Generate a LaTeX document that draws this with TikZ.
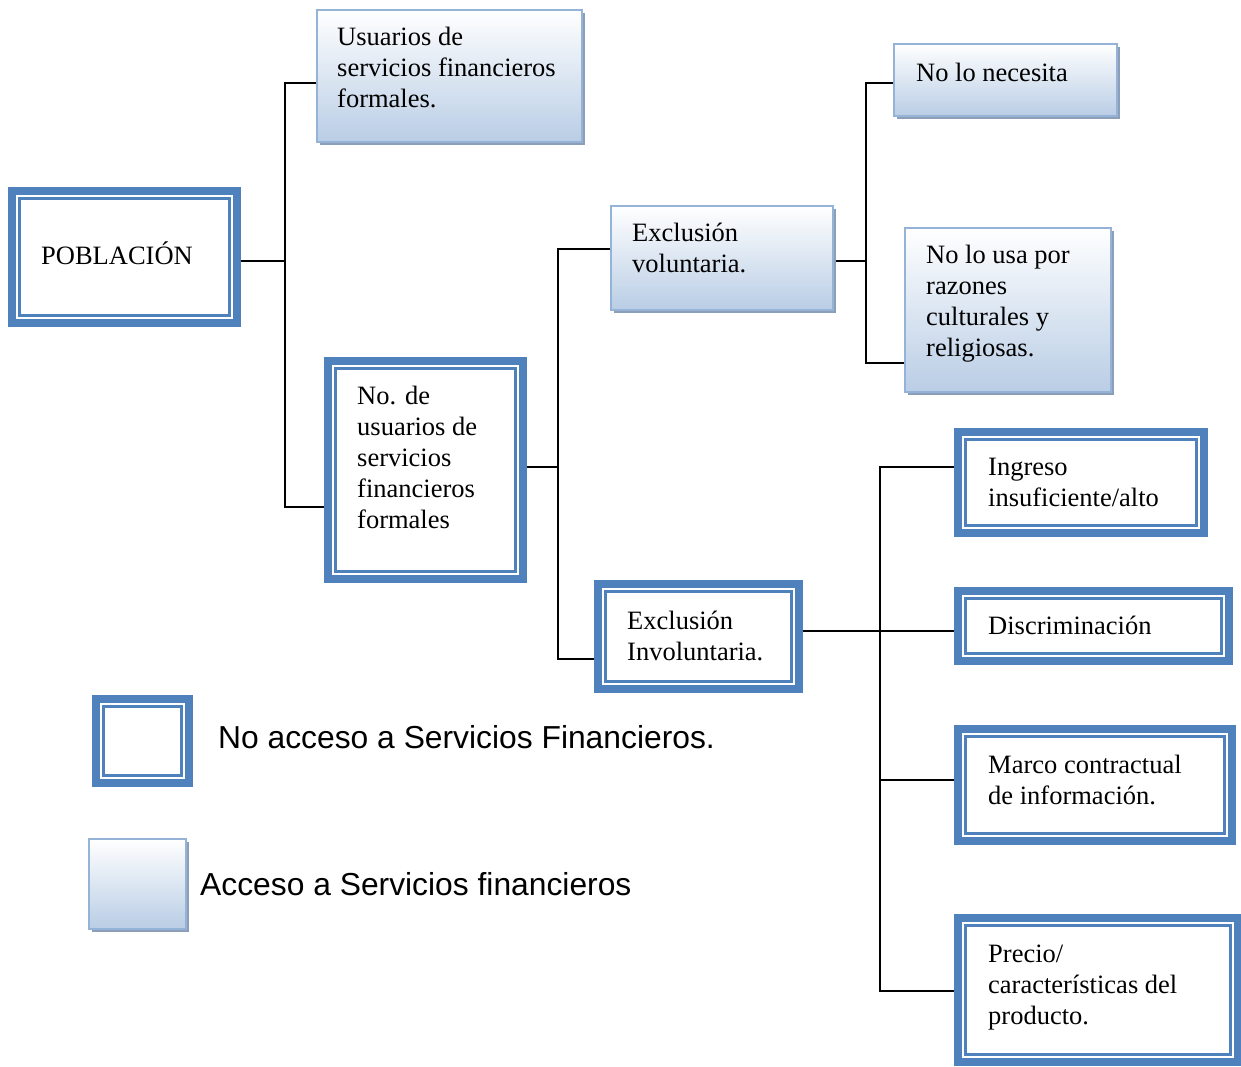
\documentclass[tikz,border=0pt]{standalone}
\usepackage{fontspec}
\setmainfont{Liberation Serif}
\newfontfamily\legfont{Liberation Sans}
\usetikzlibrary{shadows,backgrounds}
\definecolor{bluethick}{RGB}{79,129,189}
\definecolor{gborder}{RGB}{149,179,215}
\definecolor{gbottom}{RGB}{185,205,229}
\definecolor{gshadow}{RGB}{140,158,184}
\tikzset{
 dbox/.style={draw=bluethick, line width=8pt, fill=white, rectangle, outer sep=0pt, inner sep=0pt},
 thinln/.style={draw=bluethick, line width=2.5pt},
 gbox/.style={draw=gborder, line width=2pt, top color=white, bottom color=gbottom, rectangle, outer sep=0pt, inner sep=0pt,
   drop shadow={shadow xshift=3pt, shadow yshift=-3pt, fill=gshadow, opacity=1}},
 txt/.style={anchor=north west, inner sep=0pt, align=left, font=\fontsize{26.5}{31}\selectfont},
 txtb/.style={anchor=base west, inner sep=0pt, font=\fontsize{26.5}{31}\selectfont},
 conn/.style={draw=black, line width=2pt},
 legtxt/.style={anchor=base west, inner sep=0pt, font=\legfont\fontsize{31.8}{38}\selectfont},
}
\newcommand{\dblline}[1]{\draw[thinln] ([shift={(7.5,7.5)}]#1.north west) rectangle ([shift={(-7.5,-7.5)}]#1.south east);}
\newcommand{\fl}{\rule{0pt}{20pt}}
\begin{document}
\begin{tikzpicture}[x=1pt,y=-1pt]
\useasboundingbox (0,0) rectangle (1241,1066);
% double-border boxes
\node[dbox, minimum width=225pt, minimum height=132pt] (pob) at (124.5,257) {};
\dblline{pob}
\node[txtb] (pobt) at (41,264) {POBLACIÓN};
\node[dbox, minimum width=195pt, minimum height=218pt] (nod) at (425.5,470) {};
\dblline{nod}
\node[txt] (nodt) at (357,384) {\fl No. de\\usuarios de\\servicios\\financieros\\formales};
\node[dbox, minimum width=201pt, minimum height=105pt] (inv) at (698.5,636.5) {};
\dblline{inv}
\node[txt] (invt) at (627,609) {\fl Exclusión\\Involuntaria.};
\node[dbox, minimum width=246pt, minimum height=101pt] (ing) at (1081,482.5) {};
\dblline{ing}
\node[txt] (ingt) at (988,455) {\fl Ingreso\\insuficiente/alto};
\node[dbox, minimum width=271pt, minimum height=70pt] (dis) at (1093.5,626) {};
\dblline{dis}
\node[txtb] (dist) at (988,634) {Discriminación};
\node[dbox, minimum width=274pt, minimum height=112pt] (mar) at (1095,785) {};
\dblline{mar}
\node[txt] (mart) at (988,753) {\fl Marco contractual\\de información.};
\node[dbox, minimum width=280pt, minimum height=144pt] (pre) at (1098,990) {};
\dblline{pre}
\node[txt] (pret) at (988,942) {\fl Precio/\\características del\\producto.};
\node[dbox, minimum width=93pt, minimum height=84pt] (leg1) at (142.5,741) {};
\dblline{leg1}
% gradient boxes
\node[gbox, minimum width=265pt, minimum height=132pt] (usu) at (449.5,76) {};
\node[txt] (usut) at (337,25) {\fl Usuarios de\\servicios financieros\\formales.};
\node[gbox, minimum width=223pt, minimum height=72pt] (nec) at (1005.5,80) {};
\node[txtb] (nect) at (916,81) {No lo necesita};
\node[gbox, minimum width=222pt, minimum height=104pt] (vol) at (722,258) {};
\node[txt] (volt) at (632,221) {\fl Exclusión\\voluntaria.};
\node[gbox, minimum width=206pt, minimum height=164pt] (usa) at (1008,310) {};
\node[txt] (usat) at (926,243) {\fl No lo usa por\\razones\\culturales y\\religiosas.};
\node[gbox, minimum width=97pt, minimum height=90pt] (leg2) at (137.5,884) {};
% legend texts
\node[legtxt] (leg1t) at (218,748) {No acceso a Servicios Financieros.};
\node[legtxt] (leg2t) at (200,895) {Acceso a Servicios financieros};
% connectors
\begin{scope}[on background layer]
\fill[white] (0,0) rectangle (1241,1066);
\coordinate (j1) at (285,261);
\draw[conn] (pob.east |- j1) -- (j1);
\draw[conn] (usu.west |- 0,83) -| (j1) |- (nod.west |- 0,507);
\coordinate (j2) at (558,467);
\draw[conn] (nod.east |- j2) -- (j2);
\draw[conn] (vol.west |- 0,249) -| (j2) |- (inv.west |- 0,659);
\coordinate (j3) at (866,261);
\draw[conn] (vol.east |- j3) -- (j3);
\draw[conn] (nec.west |- 0,83) -| (j3) |- (usa.west |- 0,363);
\coordinate (j4) at (880,631);
\draw[conn] (inv.east |- j4) -- (j4) -- (dis.west |- j4);
\draw[conn] (ing.west |- 0,467) -| (j4) |- (pre.west |- 0,991);
\draw[conn] (mar.west |- 0,780) -- (j4 |- 0,780);
\end{scope}
\end{tikzpicture}
\end{document}
